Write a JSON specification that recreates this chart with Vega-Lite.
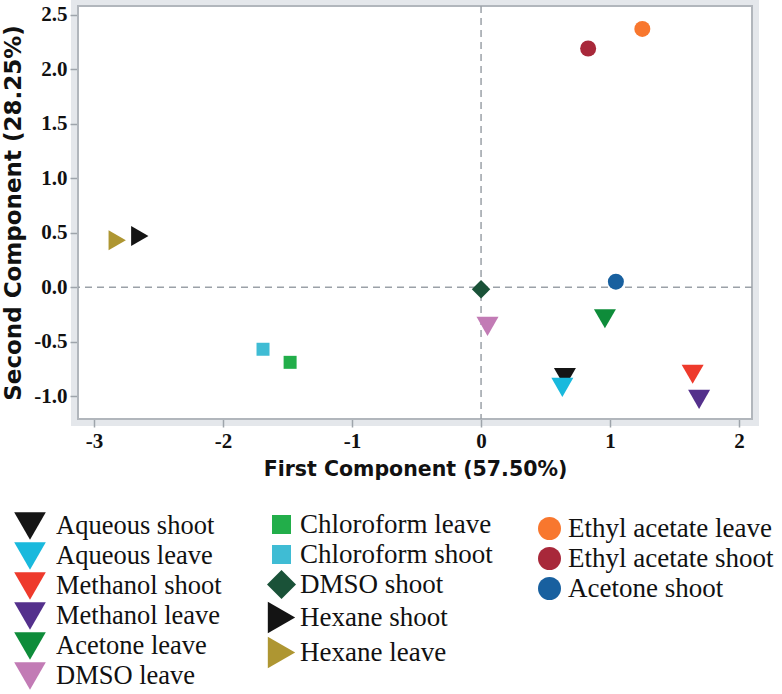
{
  "$schema": "https://vega.github.io/schema/vega-lite/v6.json",
  "width": 674,
  "height": 413,
  "autosize": {"type": "none"},
  "padding": {"left": 78, "top": 6, "right": 30, "bottom": 275},
  "background": "white",
  "data": {
    "values": [
      {"name": "Aqueous shoot", "group": "A", "pc1": 0.65, "pc2": -0.83},
      {"name": "Aqueous leave", "group": "A", "pc1": 0.63, "pc2": -0.92},
      {"name": "Methanol shoot", "group": "A", "pc1": 1.64, "pc2": -0.8},
      {"name": "Methanol leave", "group": "A", "pc1": 1.69, "pc2": -1.03},
      {"name": "Acetone leave", "group": "A", "pc1": 0.96, "pc2": -0.29},
      {"name": "DMSO leave", "group": "A", "pc1": 0.05, "pc2": -0.36},
      {"name": "Chloroform leave", "group": "B", "pc1": -1.48, "pc2": -0.69},
      {"name": "Chloroform shoot", "group": "B", "pc1": -1.69, "pc2": -0.57},
      {"name": "DMSO shoot", "group": "B", "pc1": 0.0, "pc2": -0.02},
      {"name": "Hexane shoot", "group": "B", "pc1": -2.645, "pc2": 0.47},
      {"name": "Hexane leave", "group": "B", "pc1": -2.82, "pc2": 0.43},
      {"name": "Ethyl acetate leave", "group": "C", "pc1": 1.25, "pc2": 2.37},
      {"name": "Ethyl acetate shoot", "group": "C", "pc1": 0.83, "pc2": 2.19},
      {"name": "Acetone shoot", "group": "C", "pc1": 1.045, "pc2": 0.05}
    ]
  },
  "layer": [
    {
      "data": {"values": [{}]},
      "mark": {"type": "rect", "fill": "white", "stroke": "#b1b6bc", "strokeWidth": 2},
      "encoding": {
        "x": {
          "datum": -3.124, "type": "quantitative",
          "title": "First Component (57.50%)",
          "scale": {"domain": [-3.124, 2.1], "nice": false, "zero": false},
          "axis": {"values": [-3, -2, -1, 0, 1, 2], "labelExpr": "replace(format(datum.value, 'd'), '\u2212', '-')"}
        },
        "x2": {"datum": 2.1},
        "y": {
          "datum": -1.21, "type": "quantitative",
          "title": "Second Component (28.25%)",
          "scale": {"domain": [-1.21, 2.58], "nice": false, "zero": false},
          "axis": {"values": [-1, -0.5, 0, 0.5, 1, 1.5, 2, 2.5], "labelExpr": "replace(format(datum.value, '.1f'), '\u2212', '-')"}
        },
        "y2": {"datum": 2.58}
      }
    },
    {
      "data": {"values": [{}]},
      "mark": {"type": "rule", "color": "#9ba1a8", "strokeWidth": 1.5, "strokeDash": [7, 5]},
      "encoding": {"x": {"datum": 0, "type": "quantitative", "title": "First Component (57.50%)"}}
    },
    {
      "data": {"values": [{}]},
      "mark": {"type": "rule", "color": "#9ba1a8", "strokeWidth": 1.5, "strokeDash": [7, 5]},
      "encoding": {"y": {"datum": 0, "type": "quantitative", "title": "Second Component (28.25%)"}}
    },
    {
      "transform": [{"filter": "datum.group == 'A'"}],
      "mark": {"type": "point", "filled": true, "opacity": 1, "size": 484},
      "encoding": {
        "x": {"field": "pc1", "type": "quantitative", "title": "First Component (57.50%)"},
        "y": {"field": "pc2", "type": "quantitative", "title": "Second Component (28.25%)"},
        "color": {
          "field": "name", "type": "nominal",
          "scale": {
            "domain": ["Aqueous shoot", "Aqueous leave", "Methanol shoot", "Methanol leave", "Acetone leave", "DMSO leave"],
            "range": ["#151515", "#19B9DD", "#EE3A2C", "#54308C", "#0E8C3A", "#C27BB5"]
          },
          "legend": {
            "legendX": -64, "legendY": 504, "symbolSize": 960, "rowPadding": 0, "labelOffset": 10, "labelFontSize": 26.5,
            "encode": {"symbols": {"update": {"size": {"value": 1000}}}}
          }
        },
        "shape": {
          "field": "name", "type": "nominal",
          "scale": {
            "domain": ["Aqueous shoot", "Aqueous leave", "Methanol shoot", "Methanol leave", "Acetone leave", "DMSO leave"],
            "range": ["triangle-down", "triangle-down", "triangle-down", "triangle-down", "triangle-down", "triangle-down"]
          },
          "legend": {
            "legendX": -64, "legendY": 504, "symbolSize": 960, "rowPadding": 0, "labelOffset": 10, "labelFontSize": 26.5,
            "encode": {"symbols": {"update": {"size": {"value": 1000}}}}
          }
        }
      }
    },
    {
      "transform": [{"filter": "datum.group == 'B'"}],
      "encoding": {
        "x": {"field": "pc1", "type": "quantitative", "title": "First Component (57.50%)"},
        "y": {"field": "pc2", "type": "quantitative", "title": "Second Component (28.25%)"},
        "color": {
          "field": "name", "type": "nominal",
          "scale": {
            "domain": ["Chloroform leave", "Chloroform shoot", "DMSO shoot", "Hexane shoot", "Hexane leave"],
            "range": ["#22AE4A", "#3FBCD4", "#1A5238", "#141414", "#AE9632"]
          },
          "legend": {
            "legendX": 190, "legendY": 505, "rowPadding": 2, "labelOffset": 5, "symbolSize": 1000,
            "encode": {"symbols": {"update": {"size": {"signal": "datum.value == 'DMSO shoot' ? 841 : (datum.value == 'Hexane shoot' || datum.value == 'Hexane leave') ? 1000 : 361"}}}}
          }
        },
        "shape": {
          "field": "name", "type": "nominal",
          "scale": {
            "domain": ["Chloroform leave", "Chloroform shoot", "DMSO shoot", "Hexane shoot", "Hexane leave"],
            "range": ["square", "square", "diamond", "triangle-right", "triangle-right"]
          },
          "legend": {
            "legendX": 190, "legendY": 505, "rowPadding": 2, "labelOffset": 5, "symbolSize": 1000,
            "encode": {"symbols": {"update": {"size": {"signal": "datum.value == 'DMSO shoot' ? 841 : (datum.value == 'Hexane shoot' || datum.value == 'Hexane leave') ? 1000 : 361"}}}}
          }
        }
      },
      "layer": [
        {
          "transform": [{"filter": "indexof(datum.name, 'Chloroform') == 0"}],
          "mark": {"type": "point", "filled": true, "opacity": 1, "size": 169}
        },
        {
          "transform": [{"filter": "datum.name == 'DMSO shoot'"}],
          "mark": {"type": "point", "filled": true, "opacity": 1, "size": 340}
        },
        {
          "transform": [{"filter": "indexof(datum.name, 'Hexane') == 0"}],
          "mark": {"type": "point", "filled": true, "opacity": 1, "size": 400}
        }
      ]
    },
    {
      "transform": [{"filter": "datum.group == 'C'"}],
      "mark": {"type": "point", "filled": true, "opacity": 1, "size": 256},
      "encoding": {
        "x": {"field": "pc1", "type": "quantitative", "title": "First Component (57.50%)"},
        "y": {"field": "pc2", "type": "quantitative", "title": "Second Component (28.25%)"},
        "color": {
          "field": "name", "type": "nominal",
          "scale": {
            "domain": ["Ethyl acetate leave", "Ethyl acetate shoot", "Acetone shoot"],
            "range": ["#F8772E", "#A8283A", "#18609F"]
          },
          "legend": {"legendX": 458, "legendY": 509, "symbolSize": 529, "rowPadding": 2, "labelOffset": 5}
        },
        "shape": {
          "field": "name", "type": "nominal",
          "scale": {
            "domain": ["Ethyl acetate leave", "Ethyl acetate shoot", "Acetone shoot"],
            "range": ["circle", "circle", "circle"]
          },
          "legend": {"legendX": 458, "legendY": 509, "symbolSize": 529, "rowPadding": 2, "labelOffset": 5}
        }
      }
    }
  ],
  "resolve": {
    "scale": {"color": "independent", "shape": "independent"},
    "legend": {"color": "independent", "shape": "independent"}
  },
  "config": {
    "view": {"stroke": "#e4e7eb", "strokeWidth": 14},
    "axis": {
      "grid": false,
      "domain": false,
      "ticks": true,
      "tickColor": "#9ea4ab",
      "tickWidth": 1.5,
      "tickSize": 8,
      "labelFont": "Liberation Serif",
      "labelFontWeight": "bold",
      "labelFontSize": 21,
      "labelColor": "#111111",
      "titleFont": "DejaVu Sans",
      "titleFontWeight": "bold",
      "titleColor": "#111111"
    },
    "axisX": {"labelPadding": 3, "titleFontSize": 20.5, "titlePadding": 8},
    "axisY": {"labelPadding": 3, "titleFontSize": 23, "titlePadding": 8},
    "legend": {
      "orient": "none",
      "title": null,
      "padding": 0,
      "labelFont": "Liberation Serif",
      "labelFontSize": 27,
      "labelColor": "#111111",
      "symbolStrokeWidth": 0,
      "symbolOpacity": 1,
      "labelLimit": 400
    }
  }
}
